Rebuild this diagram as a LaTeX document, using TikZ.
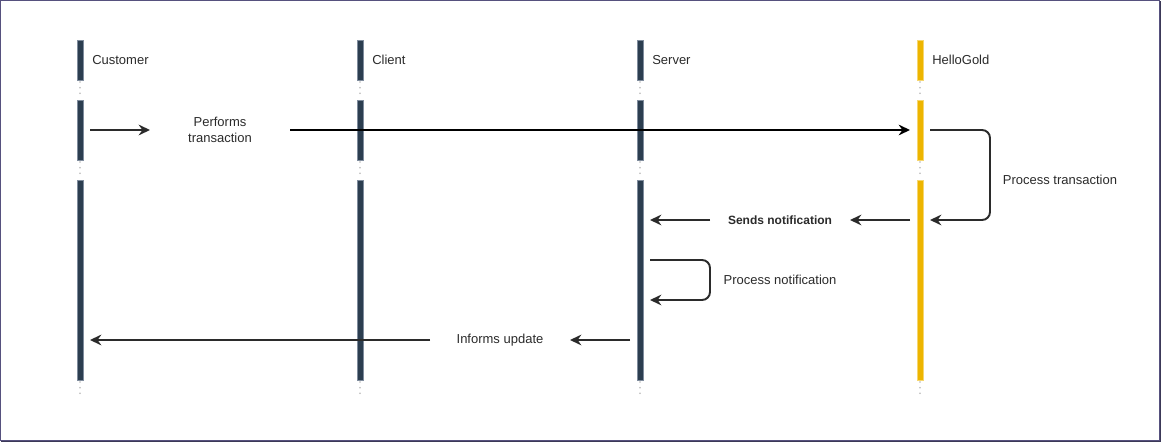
\documentclass[tikz,border=0pt]{standalone}
\usepackage{fontspec}
\setmainfont{Liberation Sans}
\usetikzlibrary{arrows.meta}
\definecolor{navy}{HTML}{2C3E50}
\definecolor{navyedge}{HTML}{7F8C9D}
\definecolor{gold}{HTML}{EDB500}
\definecolor{goldedge}{HTML}{F6D66E}
\definecolor{frame}{HTML}{56517E}
\definecolor{txt}{HTML}{2B2B2B}
\definecolor{dotgray}{HTML}{B8B8B8}
\begin{document}
\begin{tikzpicture}[x=0.75pt,y=-0.75pt,
 bar/.style={draw=navyedge, fill=navy, line width=0.5pt, minimum width=4.3pt, inner sep=0pt, anchor=north},
 goldbar/.style={bar, draw=goldedge, fill=gold},
 lbl/.style={text=txt, font=\fontsize{9.75pt}{12pt}\selectfont, inner sep=0pt},
 msg/.style={draw=txt, line width=1.45pt, -{Stealth[length=8.5pt,width=8pt,inset=2.8pt]}},
 dots/.style={draw=dotgray, line width=1.3pt, dash pattern=on 0pt off 4.25pt, line cap=round}]
\useasboundingbox (0,0) rectangle (1161,442);
\fill[white] (0,0) rectangle (1161,442);
\draw[frame, line width=1pt] (0.7,0.7) rectangle (1159.8,440.6);
\draw[frame!70!black, line width=0.8pt] (1,441.6) -- (1160.6,441.6) -- (1160.6,1);

% lifelines
\foreach \x/\n/\s in {80/cu/bar, 360/cl/bar, 640/se/bar, 920/hg/goldbar} {
  \draw[dots] (\x,82) -- (\x,99);
  \draw[dots] (\x,162) -- (\x,179);
  \draw[dots] (\x,382) -- (\x,399);
  \node[\s, minimum height=30pt] (\n1) at (\x,40) {};
  \node[\s, minimum height=45pt] (\n2) at (\x,100) {};
  \node[\s, minimum height=150pt] (\n3) at (\x,180) {};
}

% lifeline labels
\node[lbl, anchor=west] (lcu) at (92,60) {Customer};
\node[lbl, anchor=west] (lcl) at (372,60) {Client};
\node[lbl, anchor=west] (lse) at (652,60) {Server};
\node[lbl, anchor=west] (lhg) at (932,60) {HelloGold};

% message labels
\node[lbl, align=center, font=\fontsize{9.75pt}{12pt}\selectfont] (tperf) at (220,130) {Performs\\transaction};
\node[lbl] (tproc) at (1060,180) {Process transaction};
\node[lbl, font=\bfseries\fontsize{9pt}{11pt}\selectfont] (tsend) at (780,220) {Sends notification};
\node[lbl] (tpnot) at (780,280) {Process notification};
\node[lbl] (tinf) at (500,340) {Informs update};

% coordinates
\coordinate (a1) at (90,130);
\coordinate (a2) at (150,130);
\coordinate (b1) at (290,130);
\coordinate (b2) at (910,130);
\coordinate (h1) at (930,130);
\coordinate (h2) at (990,130);
\coordinate (h3) at (990,220);
\coordinate (h4) at (930,220);
\coordinate (s1) at (910,220);
\coordinate (s2) at (850,220);
\coordinate (s3) at (710,220);
\coordinate (s4) at (650,220);
\coordinate (p1) at (650,260);
\coordinate (p2) at (710,260);
\coordinate (p3) at (710,300);
\coordinate (p4) at (650,300);
\coordinate (i1) at (630,340);
\coordinate (i2) at (570,340);
\coordinate (i3) at (430,340);
\coordinate (i4) at (90,340);

% messages
\draw[msg] (a1) -- (a2);
\draw[msg, draw=black] (b1) -- (b2);
\draw[msg, rounded corners=6pt] (h1) -- (h2) -- (h3) -- (h4);
\draw[msg] (s1) -- (s2);
\draw[msg] (s3) -- (s4);
\draw[msg, rounded corners=6pt] (p1) -- (p2) -- (p3) -- (p4);
\draw[msg] (i1) -- (i2);
\draw[msg] (i3) -- (i4);
\end{tikzpicture}
\end{document}
